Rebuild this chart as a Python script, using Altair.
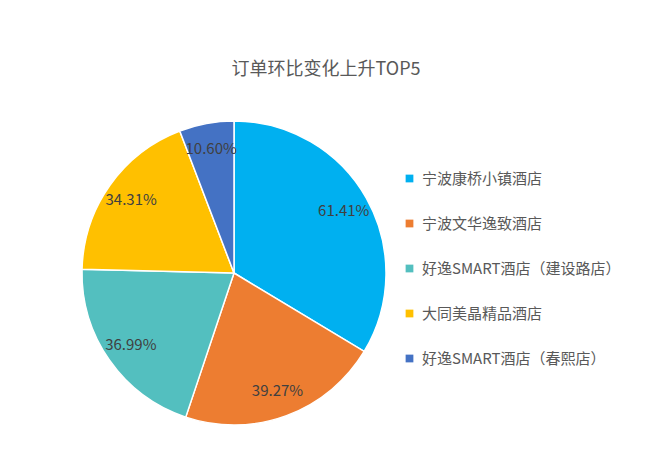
import altair as alt
import pandas as pd

hotels = ["宁波康桥小镇酒店", "宁波文华逸致酒店", "好逸SMART酒店（建设路店）", "大同美晶精品酒店", "好逸SMART酒店（春熙店）"]
values = [61.41, 39.27, 36.99, 34.31, 10.60]
labels = ["61.41%", "39.27%", "36.99%", "34.31%", "10.60%"]
colors = ["#00B0F0", "#ED7D31", "#53BFBF", "#FFC000", "#4472C4"]
title_text = "订单环比变化上升TOP5"

df = pd.DataFrame({"hotel": hotels, "value": values, "label": labels, "idx": list(range(len(hotels)))})

FONT = "Noto Sans CJK SC"
cx, cy, R = 226, 265, 152

base = alt.Chart(df).encode(
    theta=alt.Theta("value:Q", stack=True),
    order=alt.Order("idx:O"),
)

pie = base.mark_arc(radius=R, stroke="white", strokeWidth=1.5).encode(
    x=alt.value(cx), y=alt.value(cy),
    color=alt.Color("hotel:N", scale=alt.Scale(domain=hotels, range=colors),
                    legend=alt.Legend(title=None, orient="none", legendX=394, legendY=163,
                                      symbolType="square", symbolSize=60, labelFontSize=15,
                                      labelColor="#595959", labelFont=FONT, rowPadding=29,
                                      symbolStrokeWidth=0, labelOffset=5, labelLimit=400)),
)

text = base.mark_text(radius=126, fontSize=15, color="#404040", font=FONT).encode(
    x=alt.value(cx), y=alt.value(cy), text="label:N"
)

title = alt.Chart(pd.DataFrame({"t": [title_text]})).mark_text(
    fontSize=18, color="#595959", font=FONT
).encode(x=alt.value(318), y=alt.value(62), text="t:N")

chart = alt.layer(pie, text, title).properties(
    width=634, height=458, padding=0, background="white",
    autosize=alt.AutoSizeParams(type="none")
).configure_view(strokeWidth=0)

chart.save("out.html", embed_options={"renderer": "svg", "actions": False})
